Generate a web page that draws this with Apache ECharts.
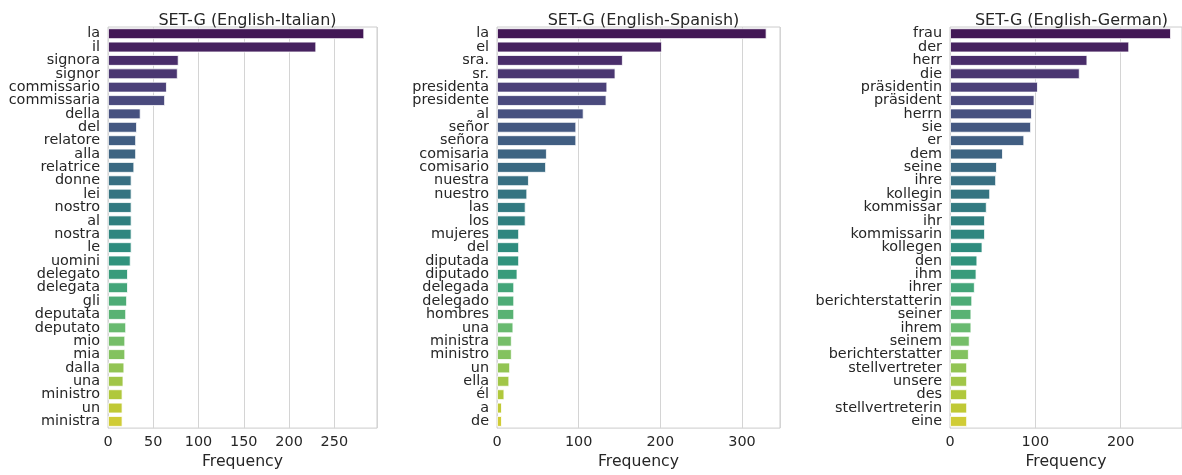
<!DOCTYPE html>
<html>
<head>
<meta charset="utf-8">
<script src="https://cdn.jsdelivr.net/npm/echarts@6/dist/echarts.min.js"></script>
<style>
html,body{margin:0;padding:0;background:#fff;}
#chart{width:1182px;height:475px;}
</style>
</head>
<body>
<div id="chart"></div>
<script>
// ---- data ----
const titles = ['SET-G (English-Italian)', 'SET-G (English-Spanish)', 'SET-G (English-German)'];

const itCategories = ['la','il','signora','signor','commissario','commissaria','della','del','relatore','alla','relatrice','donne','lei','nostro','al','nostra','le','uomini','delegato','delegata','gli','deputata','deputato','mio','mia','dalla','una','ministro','un','ministra'];
const itValues = [283,230,78,77,65,63,36,32,31,31,29,26,26,26,26,26,26,25,22,22,21,20,20,19,19,18,17,16,16,16];

const esCategories = ['la','el','sra.','sr.','presidenta','presidente','al','señor','señora','comisaria','comisario','nuestra','nuestro','las','los','mujeres','del','diputada','diputado','delegada','delegado','hombres','una','ministra','ministro','un','ella','él','a','de'];
const esValues = [330,202,154,145,135,134,106,97,97,61,60,39,37,35,35,27,27,27,25,21,21,21,20,18,18,16,15,9,6,6];

const deCategories = ['frau','der','herr','die','präsidentin','präsident','herrn','sie','er','dem','seine','ihre','kollegin','kommissar','ihr','kommissarin','kollegen','den','ihm','ihrer','berichterstatterin','seiner','ihrem','seinem','berichterstatter','stellvertreter','unsere','des','stellvertreterin','eine'];
const deValues = [259,210,161,152,103,99,96,95,87,62,55,54,47,43,41,41,38,32,31,29,26,25,25,23,22,20,20,20,20,20];

const xIntervals = [50, 100, 100];
const axisName = 'Frequency';

// ---- viridis palette (seaborn style, desaturated 0.75) ----
const viridisAnchors = ['#440154','#471365','#482475','#46337f','#414487','#3b528b','#355f8d','#2f6c8e','#2a788e','#25848e','#21918c','#1e9c89','#22a884','#35b779','#44bf70','#5ec962','#7ad151','#9bd93c','#bddf26','#dfe318','#fde725'];
function hex2rgb(h){return [parseInt(h.substr(1,2),16),parseInt(h.substr(3,2),16),parseInt(h.substr(5,2),16)];}
function viridis(t){
  const n = viridisAnchors.length - 1;
  const p = t * n; const i = Math.min(Math.floor(p), n - 1); const f = p - i;
  const a = hex2rgb(viridisAnchors[i]), b = hex2rgb(viridisAnchors[i+1]);
  return [0,1,2].map(k => (a[k] + (b[k]-a[k])*f) / 255);
}
function desat(rgb, prop){
  let [r,g,b] = rgb;
  const mx = Math.max(r,g,b), mn = Math.min(r,g,b);
  let l = (mx+mn)/2, h = 0, s = 0;
  if (mx !== mn){
    const d = mx - mn;
    s = l > 0.5 ? d/(2-mx-mn) : d/(mx+mn);
    if (mx === r) h = ((g-b)/d + (g < b ? 6 : 0));
    else if (mx === g) h = (b-r)/d + 2;
    else h = (r-g)/d + 4;
    h /= 6;
  }
  s *= prop;
  function hue2rgb(p,q,t){ if(t<0)t+=1; if(t>1)t-=1; if(t<1/6)return p+(q-p)*6*t; if(t<1/2)return q; if(t<2/3)return p+(q-p)*(2/3-t)*6; return p; }
  let rr, gg, bb;
  if (s === 0){ rr = gg = bb = l; }
  else {
    const q = l < 0.5 ? l*(1+s) : l+s-l*s; const p = 2*l-q;
    rr = hue2rgb(p,q,h+1/3); gg = hue2rgb(p,q,h); bb = hue2rgb(p,q,h-1/3);
  }
  return 'rgb(' + Math.round(rr*255) + ',' + Math.round(gg*255) + ',' + Math.round(bb*255) + ')';
}
function palette(n){
  const out = [];
  for (let i = 1; i <= n; i++) out.push(desat(viridis(i/(n+1)), 0.75));
  return out;
}

const panels = [
  {cats: itCategories, vals: itValues, left: 108, right: 805},
  {cats: esCategories, vals: esValues, left: 497, right: 402},
  {cats: deCategories, vals: deValues, left: 950, right: -1}
];

const textColor = '#262626';
const font = 'DejaVu Sans';
const option = {
  backgroundColor: '#ffffff',
  animation: false,
  title: [], grid: [], xAxis: [], yAxis: [], series: []
};

panels.forEach((p, i) => {
  const pal = palette(p.cats.length);
  const maxV = Math.max(...p.vals) * 1.05;
  const gl = p.left, gr = 1182 - p.right;
  option.title.push({
    text: titles[i], left: (gl + gr) / 2, top: 8, textAlign: 'center',
    textStyle: {fontFamily: font, fontSize: 16, fontWeight: 'normal', color: textColor}
  });
  option.grid.push({
    left: p.left, right: p.right, top: 27, bottom: 43,
    show: true, borderColor: '#cccccc', borderWidth: 1, backgroundColor: '#ffffff', containLabel: false
  });
  option.xAxis.push({
    type: 'value', gridIndex: i, min: 0, max: maxV, interval: xIntervals[i],
    name: axisName, nameLocation: 'middle', nameGap: 24,
    nameTextStyle: {fontFamily: font, fontSize: 15.7, color: textColor},
    axisLine: {show: false}, axisTick: {show: false},
    axisLabel: {fontFamily: font, fontSize: 14.4, color: textColor, margin: 7, showMaxLabel: false},
    splitLine: {show: true, lineStyle: {color: '#d4d4d4', width: 1}}
  });
  option.yAxis.push({
    type: 'category', gridIndex: i, data: p.cats, inverse: true,
    axisLine: {show: false}, axisTick: {show: false},
    axisLabel: {fontFamily: font, fontSize: 14.4, color: textColor, margin: 8, interval: 0, lineHeight: 14},
    splitLine: {show: false}
  });
  option.series.push({
    type: 'bar', xAxisIndex: i, yAxisIndex: i, data: p.vals,
    barCategoryGap: '20%',
    itemStyle: {
      color: params => pal[params.dataIndex],
      borderColor: '#ffffff', borderWidth: 0.8
    }
  });
});

const chart = echarts.init(document.getElementById('chart'), null, {renderer: 'canvas'});
chart.setOption(option);
</script>
</body>
</html>
